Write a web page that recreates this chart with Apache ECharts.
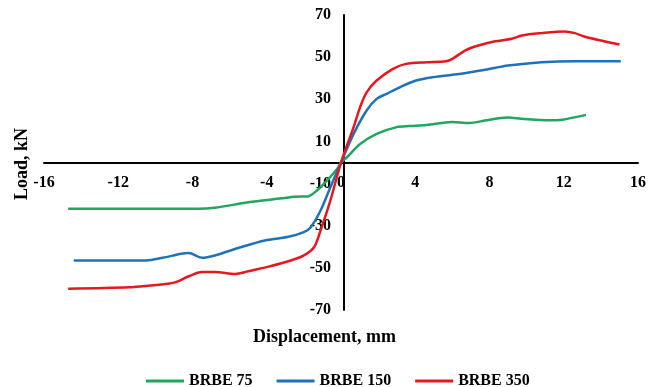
<!DOCTYPE html>
<html>
<head>
<meta charset="utf-8">
<script src="https://cdn.jsdelivr.net/npm/echarts@6/dist/echarts.min.js"></script>
<style>html,body{margin:0;padding:0;background:#fff}#c{width:649px;height:387px}</style>
</head>
<body>
<div id="c"></div>
<script>
const seriesNames = ['BRBE 75', 'BRBE 150', 'BRBE 350'];
const xTicks = { min: -16, max: 16, interval: 4 };
const yTicks = { min: -70, max: 70, interval: 20 };
const brbe75 = [[-14.7,-22],[-12,-22],[-10.3,-22],[-7.7,-22],[-6.8,-21.5],[-5.0,-18.9],[-3.2,-17],[-2.5,-16.2],[-1.8,-16.1],[-1.3,-13.3],[-0.75,-8.5],[-0.2,-3],[0,0],
  [0.32,2.5],[1.03,8.8],[1.92,13.6],[3.0,16.8],[3.7,17.3],[4.6,17.8],[6.0,19.2],[6.9,18.7],[7.8,20],[8.5,21],[9.0,21.3],[9.7,20.8],[11.2,20],[11.9,20.3],[13.2,22.6]];
const brbe150 = [[-14.4,-46.5],[-12,-46.5],[-10.5,-46.5],[-9.6,-45.2],[-8.6,-43.3],[-8.2,-43],[-7.5,-45.2],[-6.8,-44.1],[-5.4,-40.2],[-4.1,-37],[-2.9,-35.4],[-2.0,-33],[-1.64,-30.8],[-1.1,-22.8],[-0.57,-11.7],[0,0],
  [0.68,13.6],[1.38,24.7],[1.92,30.2],[2.46,32.6],[3.16,35.7],[4.04,38.9],[4.94,40.5],[6.37,42],[7.78,44],[9.0,46],[10.8,47.6],[12.6,48.1],[15.07,48.1]];
const brbe350 = [[-14.7,-59.9],[-11.4,-59.2],[-10.3,-58.4],[-9.3,-57.5],[-8.9,-56.8],[-8.2,-54],[-7.5,-52],[-6.8,-52],[-5.7,-52.9],[-5.0,-51.6],[-3.9,-49.4],[-2.7,-46.5],[-2.0,-44.1],[-1.45,-40.2],[-1.1,-32.2],[-0.57,-18],[0,0],
  [0.68,16.8],[1.03,26.3],[1.38,33.3],[1.92,38.9],[2.8,44.4],[3.5,46.8],[4.6,47.6],[5.65,48.1],[6.0,49.2],[6.7,53.2],[7.4,55.5],[8.3,57.5],[9.2,58.7],[9.75,60.3],[10.8,61.4],[12.05,62.2],[12.6,61.4],[13.1,59.8],[14.0,57.9],[15.0,56]];
const colors = ['#22a55c', '#1f72b8', '#e3191f'];
const seriesData = [brbe75, brbe150, brbe350];

const font = 'Liberation Serif, Times New Roman, serif';
const gridBox = { left: 44, right: 5, top: 15, bottom: 77 };
const W = 649, H = 387;
const gridW = W - gridBox.left - gridBox.right;
const gridH = H - gridBox.top - gridBox.bottom;
// place the axes through the origin (zero lies at the centre of both symmetric ranges)
const xZeroFrac = (0 - xTicks.min) / (xTicks.max - xTicks.min);
const yZeroFrac = (0 - yTicks.min) / (yTicks.max - yTicks.min);

const chart = echarts.init(document.getElementById('c'), null, { renderer: 'canvas' });
chart.setOption({
  animation: false,
  color: colors,
  grid: Object.assign({ containLabel: false }, gridBox),
  xAxis: {
    type: 'value', min: xTicks.min, max: xTicks.max, interval: xTicks.interval,
    position: 'bottom', offset: -gridH * yZeroFrac,
    axisLine: { onZero: false, lineStyle: { color: '#000', width: 2 } },
    axisTick: { show: false }, splitLine: { show: false },
    axisLabel: { color: '#000', fontFamily: font, fontWeight: 'bold', fontSize: 16, margin: 12 }
  },
  yAxis: {
    type: 'value', min: yTicks.min, max: yTicks.max, interval: yTicks.interval,
    position: 'left', offset: -gridW * xZeroFrac,
    axisLine: { onZero: false, lineStyle: { color: '#000', width: 2 } },
    axisTick: { show: false }, splitLine: { show: false },
    axisLabel: { color: '#000', fontFamily: font, fontWeight: 'bold', fontSize: 16, margin: 13 }
  },
  legend: {
    left: 141, top: 368, itemWidth: 38, itemHeight: 3, itemGap: 24, icon: 'rect',
    textStyle: { color: '#000', fontFamily: font, fontWeight: 'bold', fontSize: 16 },
    data: seriesNames
  },
  graphic: [
    { type: 'text', left: 'center', top: 328, style: { text: 'Displacement, mm', fill: '#000', font: 'bold 18px ' + font }, x: 20 },
    { type: 'text', rotation: Math.PI / 2, x: 13, y: 200, style: { text: 'Load, kN', fill: '#000', font: 'bold 18px ' + font, textAlign: 'left', textVerticalAlign: 'top' } }
  ],
  series: seriesData.map((d, i) => ({
    name: seriesNames[i], type: 'line', data: d, smooth: 0.3, symbol: 'none',
    lineStyle: { width: 2.5, color: colors[i] }, itemStyle: { color: colors[i] }
  }))
});
</script>
</body>
</html>
